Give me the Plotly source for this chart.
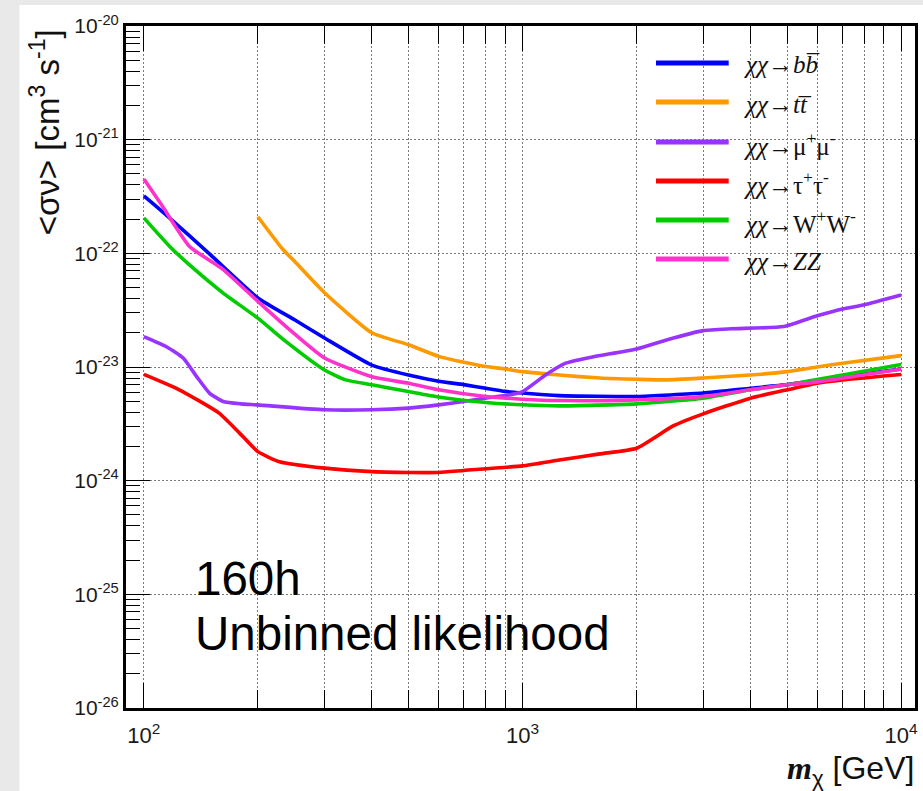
import math
import plotly.graph_objects as go

# Upper limits on <sigma v> versus dark-matter mass, per annihilation channel
mass_bb = [100, 115, 150, 200, 250, 300, 400, 500, 600, 700, 800, 900, 1000, 1250, 2000, 3000, 4000, 5000, 7000, 10000]
sv_bb = [3.2e-22, 2.15e-22, 9.7e-23, 4.05e-23, 2.6e-23, 1.8e-23, 1.04e-23, 8.5e-24, 7.5e-24, 7.0e-24, 6.5e-24,
         6.1e-24, 5.9e-24, 5.6e-24, 5.5e-24, 5.9e-24, 6.5e-24, 7.0e-24, 8.2e-24, 9.6e-24]

mass_tt = [200, 233, 250, 300, 400, 500, 600, 700, 800, 900, 1000, 1250, 1600, 2000, 2400, 3000, 4000, 5000, 6000, 7000, 10000]
sv_tt = [2.1e-22, 1.08e-22, 8.5e-23, 4.5e-23, 2.0e-23, 1.57e-23, 1.24e-23, 1.1e-23, 1.01e-23, 9.6e-24, 9.1e-24,
         8.5e-24, 8.0e-24, 7.8e-24, 7.7e-24, 8.0e-24, 8.5e-24, 9.1e-24, 1.0e-23, 1.08e-23, 1.26e-23]

mass_mumu = [100, 115, 127, 138, 149, 162, 180, 200, 300, 400, 500, 600, 700, 800, 900, 1000, 1150, 1300, 1520,
             2000, 2400, 3000, 3550, 4900, 6000, 7000, 8000, 10000]
sv_mumu = [1.85e-23, 1.5e-23, 1.2e-23, 8.2e-24, 5.9e-24, 4.97e-24, 4.74e-24, 4.64e-24, 4.2e-24, 4.2e-24, 4.35e-24,
           4.64e-24, 4.97e-24, 5.32e-24, 5.6e-24, 6.08e-24, 8.5e-24, 1.08e-23, 1.22e-23, 1.44e-23, 1.73e-23,
           2.09e-23, 2.17e-23, 2.27e-23, 2.82e-23, 3.24e-23, 3.53e-23, 4.3e-23]

mass_tautau = [100, 124, 158, 179, 200, 228, 300, 400, 500, 600, 700, 1000, 1250, 1600, 2000, 2500, 3000, 4000,
               5000, 6000, 7000, 10000]
sv_tautau = [8.6e-24, 6.3e-24, 3.93e-24, 2.62e-24, 1.8e-24, 1.47e-24, 1.29e-24, 1.2e-24, 1.18e-24, 1.18e-24,
             1.23e-24, 1.35e-24, 1.52e-24, 1.72e-24, 1.93e-24, 3.03e-24, 3.87e-24, 5.32e-24, 6.3e-24, 7.2e-24,
             7.7e-24, 8.6e-24]

mass_ww = [100, 117, 135, 162, 200, 237, 300, 341, 400, 500, 600, 800, 1000, 1250, 2000, 3000, 4000, 5000, 10000]
sv_ww = [2.05e-22, 1.15e-22, 7.4e-23, 4.47e-23, 2.69e-23, 1.68e-23, 9.4e-24, 7.7e-24, 6.97e-24, 6.08e-24,
         5.45e-24, 4.88e-24, 4.65e-24, 4.55e-24, 4.74e-24, 5.32e-24, 6.3e-24, 6.97e-24, 1.05e-23]

mass_zz = [100, 112, 132, 162, 200, 237, 300, 400, 500, 600, 800, 1000, 1250, 2000, 3000, 4000, 5000, 6000, 10000]
sv_zz = [4.5e-22, 2.59e-22, 1.15e-22, 7.2e-23, 3.78e-23, 2.28e-23, 1.2e-23, 8.2e-24, 7.2e-24, 6.3e-24, 5.5e-24,
         5.21e-24, 5.07e-24, 5.14e-24, 5.5e-24, 6.3e-24, 6.97e-24, 7.4e-24, 9.6e-24]

channel_labels = [
    "<i>χχ</i>→<i>b</i><i>b\u0305</i>",
    "<i>χχ</i>→<i>t</i><i>t\u0305</i>",
    "<i>χχ</i>→μ<sup>+</sup>μ<sup>-</sup>",
    "<i>χχ</i>→τ<sup>+</sup>τ<sup>-</sup>",
    "<i>χχ</i>→W<sup>+</sup>W<sup>-</sup>",
    "<i>χχ</i>→<i>ZZ</i>",
]
channel_colors = ["#0000ff", "#ff9900", "#9933ff", "#ff0000", "#00cc00", "#ff33cc"]
channel_data = [
    (mass_bb, sv_bb),
    (mass_tt, sv_tt),
    (mass_mumu, sv_mumu),
    (mass_tautau, sv_tautau),
    (mass_ww, sv_ww),
    (mass_zz, sv_zz),
]

x_major = [100, 1000, 10000]
x_major_text = ["10<sup>2</sup>", "10<sup>3</sup>", "10<sup>4</sup>"]
x_minor = [k * 10 ** e for e in (2, 3) for k in range(2, 10)]
y_exponents = [-26, -25, -24, -23, -22, -21, -20]
y_major = [10.0 ** e for e in y_exponents]
y_major_text = ["10<sup>%d</sup>" % e for e in y_exponents]
y_minor = [k * 10.0 ** e for e in y_exponents[:-1] for k in range(2, 10)]

text_lines = ["160h", "Unbinned likelihood"]

# Canvas geometry (pixels) and helpers converting to paper coordinates
W, H = 923, 791
L, R, T, B = 126, 918, 26, 708


def px_x(p):
    return (p - L) / (R - L)


def px_y(p):
    return (B - p) / (B - T)


SANS = "Liberation Sans, Arial, sans-serif"
SERIF = "Liberation Serif, Times New Roman, serif"
GRID = "#7a7a7a"

fig = go.Figure()
for (xs, ys), name, col in zip(channel_data, channel_labels, channel_colors):
    fig.add_trace(go.Scatter(x=xs, y=ys, mode="lines", name=name,
                             line=dict(color=col, width=3.6, shape="spline", smoothing=0.5),
                             showlegend=False))

shapes = []
# white page over a light grey surround
shapes.append(dict(type="rect", xref="paper", yref="paper", layer="below",
                   x0=px_x(19), x1=px_x(W + 20), y0=px_y(H + 20), y1=px_y(5),
                   fillcolor="white", line=dict(width=0)))
# legend panel
leg_x0, leg_x1, leg_y0, leg_y1 = 645, 901, 44, 280
shapes.append(dict(type="rect", xref="paper", yref="paper", layer="between",
                   x0=px_x(leg_x0), x1=px_x(leg_x1), y0=px_y(leg_y1), y1=px_y(leg_y0),
                   fillcolor="white", line=dict(width=0)))

annotations = []
row_y = [63, 102, 142, 181, 220, 259]
for ry, name, col in zip(row_y, channel_labels, channel_colors):
    shapes.append(dict(type="line", xref="paper", yref="paper",
                       x0=px_x(658), x1=px_x(731), y0=px_y(ry), y1=px_y(ry),
                       line=dict(color=col, width=5)))
    annotations.append(dict(text=name, xref="paper", yref="paper", x=px_x(744), y=px_y(ry + 2),
                            xanchor="left", yanchor="middle", showarrow=False,
                            font=dict(family=SERIF, size=25, color="#111111")))

# statement inside the frame
annotations.append(dict(text=text_lines[0], xref="paper", yref="paper", x=px_x(193), y=px_y(578),
                        xanchor="left", yanchor="middle", showarrow=False,
                        font=dict(family=SANS, size=47.5, color="black")))
annotations.append(dict(text=text_lines[1], xref="paper", yref="paper", x=px_x(193), y=px_y(633),
                        xanchor="left", yanchor="middle", showarrow=False,
                        font=dict(family=SANS, size=47.5, color="black")))

# axis titles
annotations.append(dict(text="&lt;σν&gt; [cm<sup>3</sup> s<sup>-1</sup>]", xref="paper", yref="paper",
                        x=px_x(45), y=px_y(27), xanchor="center", yanchor="top", textangle=-90,
                        showarrow=False, font=dict(family=SANS, size=33, color="#111111")))
annotations.append(dict(text='<span style="font-family:Liberation Serif"><b><i>m</i></b></span>'
                             '<sub>χ</sub> [GeV]',
                        xref="paper", yref="paper", x=px_x(919), y=px_y(770),
                        xanchor="right", yanchor="middle", showarrow=False,
                        font=dict(family=SANS, size=32, color="#111111")))

fig.update_layout(
    width=W, height=H,
    margin=dict(l=L, r=W - R, t=T, b=H - B, pad=0),
    paper_bgcolor="#e9e9e9",
    plot_bgcolor="white",
    shapes=shapes,
    annotations=annotations,
    showlegend=False,
)

fig.update_xaxes(
    type="log", range=[math.log10(89.7), math.log10(10880)],
    tickmode="array", tickvals=x_major, ticktext=x_major_text,
    ticks="inside", ticklen=25, tickwidth=1, tickcolor="black",
    tickfont=dict(family=SANS, size=22, color="#1a1a1a"), ticklabelstandoff=6,
    showgrid=True, gridcolor=GRID, gridwidth=1, griddash="2px,2px",
    showline=True, linecolor="black", linewidth=3, mirror="ticks",
    zeroline=False,
    minor=dict(tickmode="array", tickvals=x_minor, ticks="inside", ticklen=18, tickwidth=1,
               tickcolor="black", showgrid=True, gridcolor=GRID, gridwidth=1, griddash="2px,2px"),
)
fig.update_yaxes(
    type="log", range=[-26, -20],
    tickmode="array", tickvals=y_major, ticktext=y_major_text,
    ticks="inside", ticklen=24, tickwidth=1, tickcolor="black",
    tickfont=dict(family=SANS, size=21, color="#1a1a1a"),
    showgrid=True, gridcolor=GRID, gridwidth=1, griddash="2px,2px",
    showline=True, linecolor="black", linewidth=3, mirror=True,
    zeroline=False,
    minor=dict(tickmode="array", tickvals=y_minor, ticks="inside", ticklen=14, tickwidth=1,
               tickcolor="black", showgrid=False),
)

fig.write_html("out.html")
